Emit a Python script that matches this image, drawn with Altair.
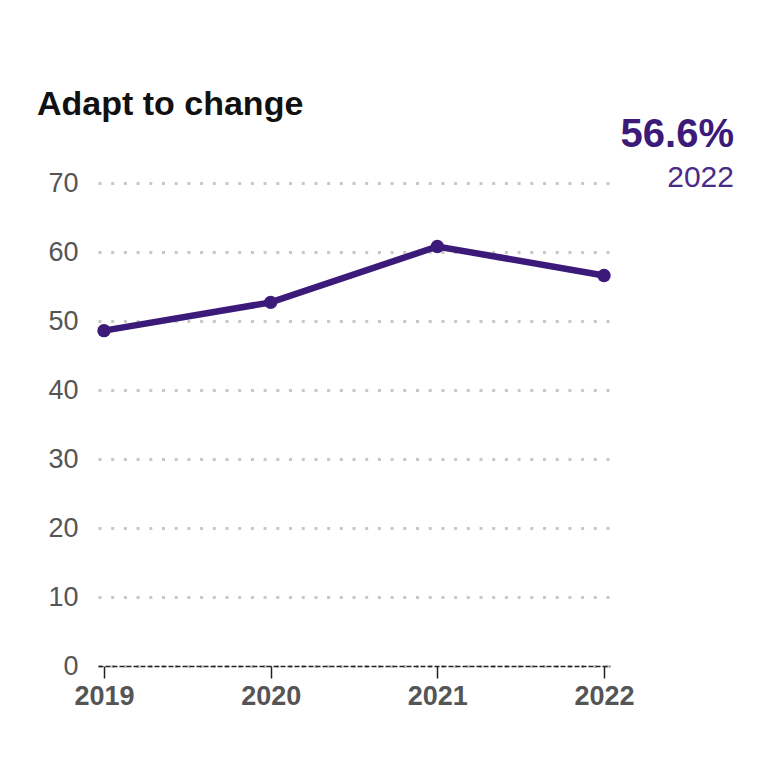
import altair as alt
import pandas as pd

years = ["2019", "2020", "2021", "2022"]
values = [48.6, 52.7, 60.8, 56.6]
title_text = "Adapt to change"
y_ticks = [0, 10, 20, 30, 40, 50, 60, 70]

df = pd.DataFrame({"year": years, "value": values})
last = pd.DataFrame({
    "year": [years[-1]],
    "value": [values[-1]],
    "pct": [f"{values[-1]}%"],
})

PURPLE = "#3b1a7a"

x_enc = alt.X(
    "year:O",
    sort=years,
    scale=alt.Scale(type="point", padding=0.036),
    axis=alt.Axis(
        title=None, labelAngle=0, grid=False,
        domainDash=[5, 2], domainColor="#222222", domainWidth=1.5,
        tickColor="#222222", tickSize=12, tickWidth=1.5,
        labelFontSize=27, labelFontWeight="bold", labelColor="#555555",
        labelPadding=5, labelFont="Liberation Sans",
    ),
)
y_enc = alt.Y(
    "value:Q",
    scale=alt.Scale(domain=[0, 70], nice=False),
    axis=alt.Axis(
        title=None, values=y_ticks, domain=False, ticks=False,
        grid=True, gridDash=[3, 9.7], gridColor="#c8c8c8", gridWidth=3,
        labelFontSize=27, labelColor="#555555", labelPadding=20,
        labelFont="Liberation Sans",
    ),
)

line = alt.Chart(df).mark_line(color=PURPLE, strokeWidth=6.5).encode(x=x_enc, y=y_enc)
pts = alt.Chart(df).mark_point(filled=True, color=PURPLE, size=180, opacity=1).encode(
    x="year:O", y="value:Q"
)
big = alt.Chart(last).mark_text(
    align="right", baseline="alphabetic", dx=130, fontSize=40, fontWeight="bold",
    color=PURPLE, font="Liberation Sans",
).encode(x="year:O", y=alt.value(-36), text="pct:N")
small = alt.Chart(last).mark_text(
    align="right", baseline="alphabetic", dx=130, fontSize=30,
    color="#4a2c88", font="Liberation Sans",
).encode(x="year:O", y=alt.value(4), text="year:N")

chart = alt.layer(line, pts, big, small).properties(
    width=512,
    height=483,
    title=alt.TitleParams(
        title_text, anchor="start", frame="bounds", fontSize=34, fontWeight="bold",
        color="#111111", font="Liberation Sans", dx=-11, offset=-7,
    ),
    autosize=alt.AutoSizeParams(type="none"),
    padding={"left": 90, "top": 175, "right": 139, "bottom": 85},
).configure(background="white", view=alt.ViewConfig(stroke=None))

chart.save("out.html", embed_options={"renderer": "svg", "actions": False})
